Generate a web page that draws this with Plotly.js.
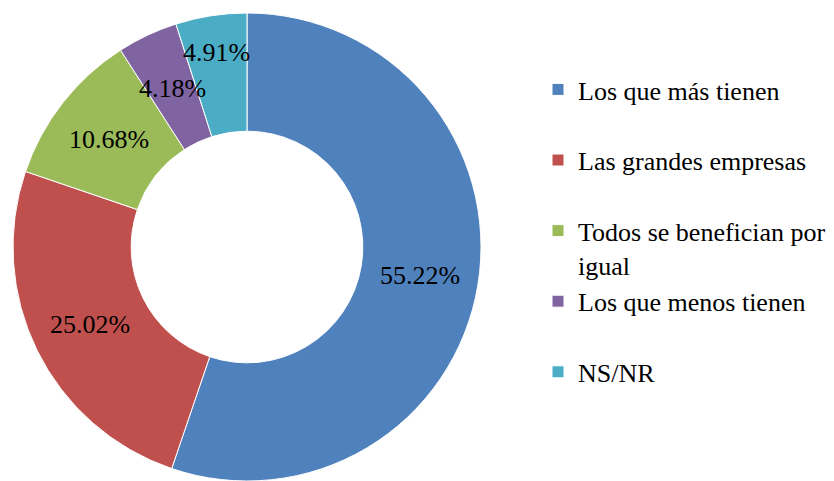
<!DOCTYPE html>
<html>
<head>
<meta charset="utf-8">
<script src="https://cdn.plot.ly/plotly-3.0.1.min.js"></script>
<style>
  html, body { margin: 0; padding: 0; background: #fff; }
  #chart { width: 834px; height: 481px; }
</style>
</head>
<body>
<div id="chart"></div>
<script>
// Donut chart data
const categories = ['Los que más tienen', 'Las grandes empresas', 'Todos se benefician por<br>igual', 'Los que menos tienen', 'NS/NR'];
const shares = [55.22, 25.02, 10.68, 4.18, 4.91];
const sliceColors = ['#4F81BD', '#C0504D', '#9BBB59', '#8064A2', '#4BACC6'];

const W = 834, H = 481;
const fontFamily = 'Times New Roman';
const fontSize = 26;

// pie geometry (pixels) -> domain
const cx = 247, cy = 247, R = 234, hole = 0.495;
const domain = {
    x: [(cx - R) / W, (cx + R) / W],
    y: [1 - (cy + R) / H, 1 - (cy - R) / H]
};

// each legend entry takes two lines, so single-line labels get a blank line
const legendLabels = categories.map(c => c.includes('<br>') ? c : c + '<br>\u00a0');

const trace = {
    type: 'pie',
    labels: legendLabels,
    values: shares,
    hole: hole,
    sort: false,
    direction: 'clockwise',
    rotation: 0,
    domain: domain,
    textposition: 'none',
    marker: { colors: sliceColors, line: { color: '#ffffff', width: 1 } },
    hoverinfo: 'skip'
};

// value labels at the middle of the ring, pushed outward if they hit the previous one
const total = shares.reduce((a, b) => a + b, 0);
const midR = R * (1 + hole) / 2;
const boxW = t => t.length * fontSize * 0.45, boxH = fontSize;
let cum = 0;
const placed = [];
const annotations = shares.map(v => {
    const theta = (cum + v / 2) / total * 2 * Math.PI;
    cum += v;
    const text = v.toFixed(2) + '%';
    let r = midR, px, py;
    const hits = () => placed.some(b =>
        Math.abs(b.x - px) < (b.w + boxW(text)) / 2 + 4 && Math.abs(b.y - py) < boxH + 10);
    do {
        px = cx + r * Math.sin(theta);
        py = cy - r * Math.cos(theta);
        r += 1;
    } while (hits() && r < R);
    placed.push({ x: px, y: py, w: boxW(text) });
    return {
        xref: 'paper', yref: 'paper',
        x: px / W, y: 1 - py / H,
        xanchor: 'center', yanchor: 'middle',
        text: text,
        showarrow: false,
        font: { family: fontFamily, size: fontSize, color: '#000' }
    };
});

const layout = {
    width: W,
    height: H,
    margin: { l: 0, r: 0, t: 0, b: 0 },
    paper_bgcolor: '#ffffff',
    font: { family: fontFamily },
    showlegend: true,
    legend: {
        x: 538 / W,
        y: 1 - 66 / H,
        xanchor: 'left',
        yanchor: 'top',
        valign: 'top',
        font: { family: fontFamily, size: fontSize, color: '#000' },
        bgcolor: 'rgba(0,0,0,0)'
    },
    annotations: annotations
};

Plotly.newPlot('chart', [trace], layout, { staticPlot: true });
</script>
</body>
</html>
